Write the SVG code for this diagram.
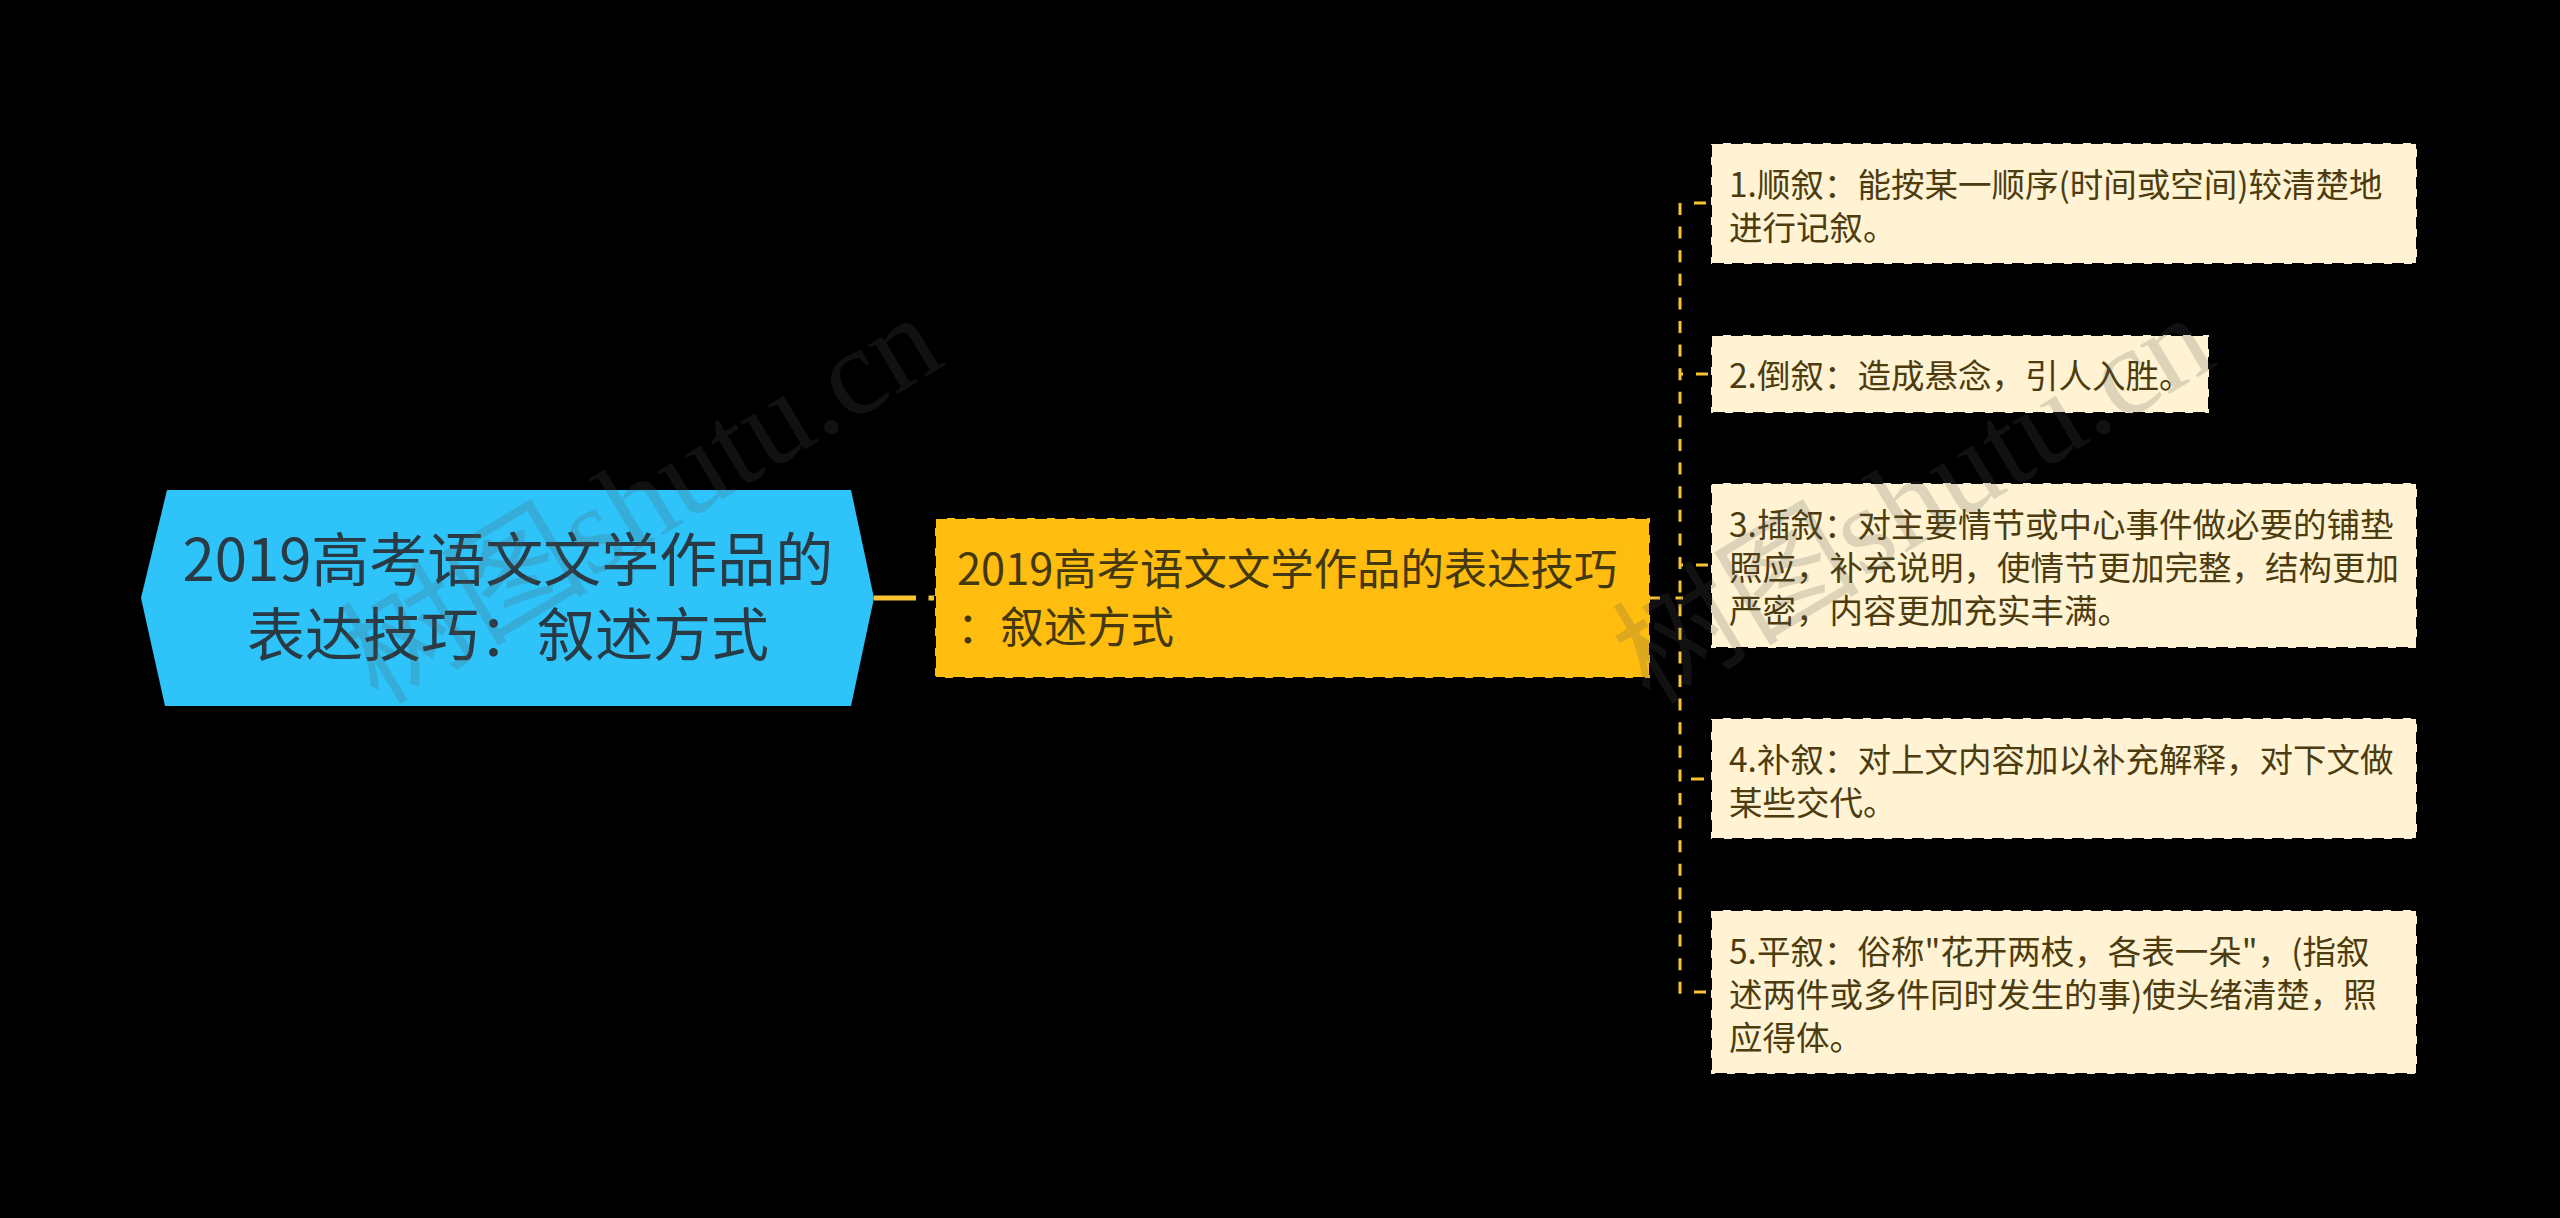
<svg xmlns="http://www.w3.org/2000/svg" width="2560" height="1218" viewBox="0 0 2560 1218">
<style>
text{font-family:"Noto Sans CJK SC","Noto Sans",sans-serif}
.c{fill:none;stroke:#f9c334}
.thin{stroke-width:3}
.box{stroke:#000;stroke-width:2;stroke-dasharray:12 8}
.leaf{fill:#fff3d3}
.lt{font-size:33.5px;fill:#4c3c10}
.mt{font-size:43.4px;fill:#443810}
.rt{font-size:58px;fill:#2a3a44;text-anchor:middle}
.wm{font-family:"Liberation Serif","Noto Sans CJK SC",serif;font-size:124px;fill:#555;fill-opacity:.2}
</style>
<rect width="2560" height="1218" fill="#000"/>
<g id="connectors">
<path class="c" stroke-width="5" stroke-dasharray="42 12.5" d="M874 598H936"/>
<path class="c thin" stroke-dasharray="12 11.6" d="M1680 203V994"/>
<path class="c thin" d="M1650 598H1660M1675.5 598H1683M1694 203H1706M1680 374H1683M1696 374H1708M1680 565H1683M1696 565H1708M1691 779H1704M1694 992H1706"/>
</g>
<g id="root">
<polygon fill="#2ec3f9" points="167,490 851,490 874,598 851,706 165,706 141,598"/>
<text class="rt" x="508" y="581">2019高考语文文学作品的</text>
<text class="rt" x="508" y="656">表达技巧：叙述方式</text>
</g>
<g id="main">
<rect class="box" x="935" y="518" width="715" height="160" fill="#ffbd10"/>
<text class="mt" x="957" y="585">2019高考语文文学作品的表达技巧</text>
<text class="mt" x="957" y="643">：叙述方式</text>
</g>
<g id="leaf1">
<rect class="box leaf" x="1711" y="143" width="706" height="121"/>
<text class="lt" x="1729" y="197">1.顺叙：能按某一顺序(时间或空间)较清楚地</text>
<text class="lt" x="1729" y="240">进行记叙。</text>
</g>
<g id="leaf2">
<rect class="box leaf" x="1711" y="335" width="498" height="78"/>
<text class="lt" x="1729" y="388">2.倒叙：造成悬念，引人入胜。</text>
</g>
<g id="leaf3">
<rect class="box leaf" x="1711" y="483" width="706" height="165"/>
<text class="lt" x="1729" y="537">3.插叙：对主要情节或中心事件做必要的铺垫</text>
<text class="lt" x="1729" y="580">照应，补充说明，使情节更加完整，结构更加</text>
<text class="lt" x="1729" y="623">严密，内容更加充实丰满。</text>
</g>
<g id="leaf4">
<rect class="box leaf" x="1711" y="718" width="706" height="121"/>
<text class="lt" x="1729" y="772">4.补叙：对上文内容加以补充解释，对下文做</text>
<text class="lt" x="1729" y="815">某些交代。</text>
</g>
<g id="leaf5">
<rect class="box leaf" x="1711" y="910" width="706" height="164"/>
<text class="lt" x="1729" y="964">5.平叙：俗称"花开两枝，各表一朵"，(指叙</text>
<text class="lt" x="1729" y="1007">述两件或多件同时发生的事)使头绪清楚，照</text>
<text class="lt" x="1729" y="1050">应得体。</text>
</g>
<g id="watermark">
<text class="wm" transform="translate(378 706) rotate(-31)">树图shutu.cn</text>
<text class="wm" transform="translate(1650 706) rotate(-31)">树图shutu.cn</text>
</g>
</svg>
